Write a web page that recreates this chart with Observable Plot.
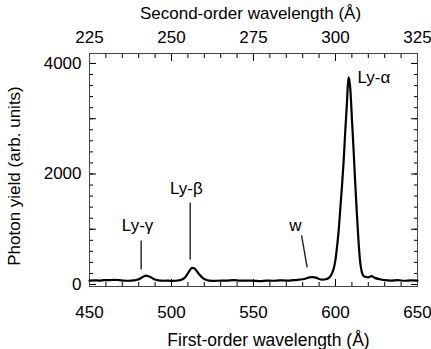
<!DOCTYPE html>
<html><head><meta charset="utf-8">
<script src="https://cdn.jsdelivr.net/npm/d3@7"></script>
<script src="https://cdn.jsdelivr.net/npm/@observablehq/plot@0.6"></script>
<style>body{margin:0;background:#fff}</style>
</head><body><div id="chart"></div>
<script>
const wavelength = [450,453,456,459,462,465,468,471,474,477,479,481,483,484.5,486,488,490,492,495,498,501,504,506,508,509.5,511,512.5,514,515.5,517,519,521,523,526,530,534,538,542,546,550,554,558,562,566,570,574,577,580,582,584,586,588,590,592,594,596,597.5,599,600,601,602,603,604,605,606,607,607.5,608,608.5,609,609.5,610,611,612,613,614,615,616,617,618,620,622,624,627,630,634,638,642,646,650];
const yieldVals = [70,75,72,80,78,85,80,72,68,75,85,110,145,160,150,120,90,75,68,70,65,72,85,120,180,250,300,290,240,180,120,85,70,65,70,72,78,70,72,68,62,70,68,75,72,78,85,95,110,130,135,125,100,88,95,120,180,300,450,700,1000,1400,1800,2250,2800,3300,3600,3750,3680,3550,3300,3000,2450,1850,1300,800,420,230,160,140,130,150,120,95,80,72,78,68,75,72];

const xMajor = [450,500,550,600,650];
const xMinor = d3.range(450, 651, 10);
const yMajorLabels = [0,2000,4000];
const yMajor = [0,1000,2000,3000,4000];
const yMinor = d3.range(0, 4001, 200);

const lineLabels = ["Ly-γ","Ly-β","w","Ly-α"];
const labelX = [479.3,509.1,575.6,613.4];
const labelY = [1068,1738,1068,3747];
const leaderX1 = [481.5,511.4,579.3];
const leaderY1 = [796,1484,887];
const leaderX2 = [481.5,511.4,582.7];
const leaderY2 = [271,452,308];

const spectrum = wavelength.map((w,i)=>({w, v: yieldVals[i]}));
const labels = lineLabels.map((t,i)=>({t, x: labelX[i], y: labelY[i]}));
const leaders = leaderX1.map((x1,i)=>({x1, y1: leaderY1[i], x2: leaderX2[i], y2: leaderY2[i]}));

const font = "Liberation Sans, Arial, Helvetica, sans-serif";
const chart = Plot.plot({
  width: 431, height: 349,
  marginLeft: 89, marginRight: 14, marginTop: 53, marginBottom: 63,
  x: {domain: [450, 650]},
  y: {domain: [-36, 4180]},
  style: {fontFamily: font, fontSize: "17px", background: "white", color: "black", overflow: "visible"},
  marks: [
    Plot.axisX(xMinor, {anchor: "bottom", tickSize: -4, text: null, label: null}),
    Plot.axisX(xMajor, {anchor: "bottom", tickSize: -7, text: null, label: null}),
    Plot.axisX(xMajor, {anchor: "bottom", tickSize: 0, tickPadding: 19, tickFormat: d => String(d), label: null, fontSize: 17}),
    Plot.axisX(xMinor, {anchor: "top", tickSize: -4, text: null, label: null}),
    Plot.axisX(xMajor, {anchor: "top", tickSize: -7, text: null, label: null}),
    Plot.axisX(xMajor, {anchor: "top", tickSize: 0, tickPadding: 11, tickFormat: d => String(d/2), label: null, fontSize: 17}),
    Plot.axisY(yMinor, {anchor: "left", tickSize: -4, text: null, label: null}),
    Plot.axisY(yMajor, {anchor: "left", tickSize: -7, text: null, label: null}),
    Plot.axisY(yMajorLabels, {anchor: "left", tickSize: 0, tickPadding: 8, tickFormat: d => String(d), label: null, fontSize: 17}),
    Plot.axisY(yMinor, {anchor: "right", tickSize: -4, text: null, label: null}),
    Plot.axisY(yMajor, {anchor: "right", tickSize: -7, text: null, label: null}),
    Plot.frame({stroke: "#444"}),
    Plot.line(spectrum, {x: "w", y: "v", stroke: "black", strokeWidth: 2.2, curve: "monotone-x"}),
    Plot.link(leaders, {x1: "x1", y1: "y1", x2: "x2", y2: "y2", stroke: "#222", strokeWidth: 1.4}),
    Plot.text(labels.slice(0, 3), {x: "x", y: "y", text: "t", textAnchor: "middle", fontSize: 17, fill: "black"}),
    Plot.text(labels.slice(3), {x: "x", y: "y", text: "t", textAnchor: "start", fontSize: 17, fill: "black"}),
    Plot.text(["Second-order wavelength (Å)"], {frameAnchor: "top", dx: -3, dy: -47, fontSize: 17, fill: "black"}),
    Plot.text(["First-order wavelength (Å)"], {frameAnchor: "bottom", dx: 15, dy: 59, fontSize: 17.5, fill: "black"}),
    Plot.text(["Photon yield (arb. units)"], {frameAnchor: "left", textAnchor: "middle", dx: -75, dy: 6, rotate: -90, fontSize: 17, fill: "black"})
  ]
});
document.getElementById("chart").appendChild(chart);
</script></body></html>
